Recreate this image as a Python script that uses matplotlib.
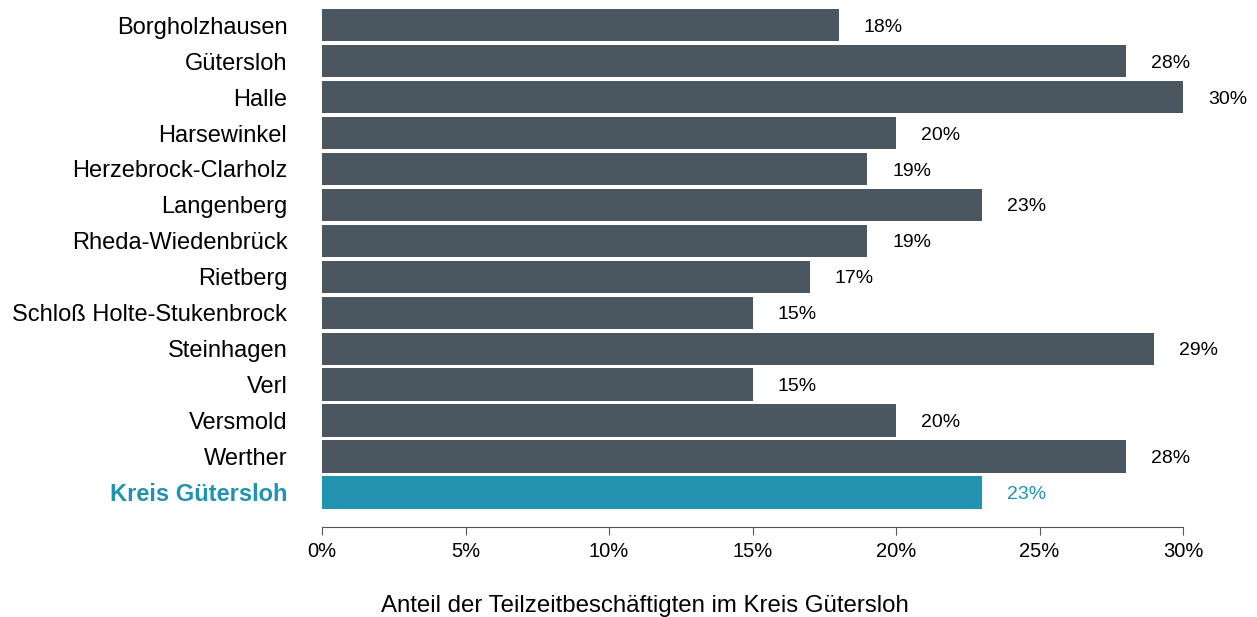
import matplotlib.pyplot as plt
import numpy as np

regions = ["Borgholzhausen", "Gütersloh", "Halle", "Harsewinkel", "Herzebrock-Clarholz",
           "Langenberg", "Rheda-Wiedenbrück", "Rietberg", "Schloß Holte-Stukenbrock",
           "Steinhagen", "Verl", "Versmold", "Werther", "Kreis Gütersloh"]
shares = [18, 28, 30, 20, 19, 23, 19, 17, 15, 29, 15, 20, 28, 23]
x_ticks = [0, 5, 10, 15, 20, 25, 30]

dark = "#4a5660"
teal = "#2193b0"

plt.rcParams['font.family'] = ['Liberation Sans', 'DejaVu Sans']

fig = plt.figure(figsize=(12.57, 6.17), dpi=100)
ax = fig.add_axes([322 / 1257, 1 - 527 / 617, (1183 - 322) / 1257, (527 - 9) / 617])

y = np.arange(len(regions))
colors = [dark] * (len(regions) - 1) + [teal]
ax.barh(y, shares, height=0.9, color=colors)

# value labels to the right of each bar
for yi, v, c in zip(y, shares, colors):
    ax.annotate(f"{v}%", xy=(v, yi), xytext=(18, -1.5), textcoords="offset points",
                ha='left', va='center', fontsize=14,
                color=teal if c == teal else 'black')

ax.set_xlim(0, 30)
ax.set_ylim(13.96, -0.45)
ax.set_yticks(y)
ax.set_yticklabels(regions, fontsize=17)
ax.get_yticklabels()[-1].set_color(teal)
ax.get_yticklabels()[-1].set_fontweight('bold')
ax.tick_params(axis='y', length=0, pad=25)

ax.set_xticks(x_ticks)
ax.set_xticklabels([f"{t}%" for t in x_ticks], fontsize=14.5)
ax.tick_params(axis='x', length=6, color='#555555', pad=5)

for s in ['top', 'right', 'left']:
    ax.spines[s].set_visible(False)
ax.spines['bottom'].set_color('#555555')

fig.text(645 / 1257, 1 - 612 / 617, "Anteil der Teilzeitbeschäftigten im Kreis Gütersloh",
         fontsize=17.3, ha='center', va='baseline')

fig.savefig("out.png", dpi=100)
